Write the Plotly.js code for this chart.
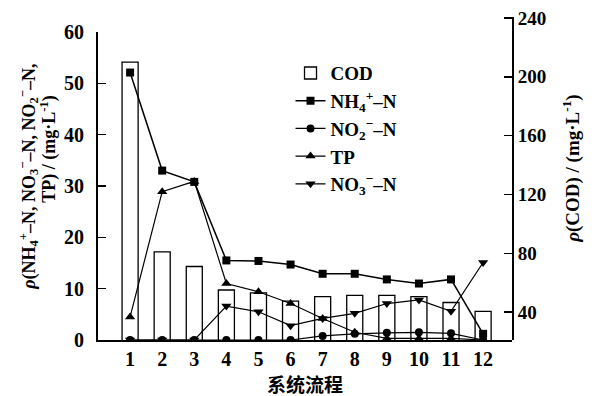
<!DOCTYPE html>
<html>
<head>
<meta charset="utf-8">
<script src="https://cdn.plot.ly/plotly-3.0.1.min.js"></script>
<style>html,body{margin:0;padding:0;background:#fff;}#chart{width:600px;height:396px;}</style>
</head>
<body>
<div id="chart"></div>
<script>
const steps = ['1','2','3','4','5','6','7','8','9','10','11','12'];
const stepX = [1,2,3,4,5,6,7,8,9,10,11,12];
const cod = [210, 81, 71, 55, 53, 47.5, 50.5, 51.3, 51.3, 50.5, 46.5, 40.5];
const nh4 = [52.1, 33.0, 30.8, 15.5, 15.4, 14.7, 12.9, 12.9, 11.8, 11.0, 11.8, 1.2];
const no2 = [0, 0, 0, 0, 0, 0, 0.8, 1.2, 1.4, 1.5, 1.3, 0];
const tp  = [4.5, 28.9, 30.9, 11.0, 9.4, 7.1, 4.2, 1.5, 0.3, 0.3, 0.3, 0];
const no3 = [0, 0, 0, 6.6, 5.5, 2.8, 4.2, 5.2, 7.1, 7.8, 5.6, 15.1];
const leftTicks = [0, 10, 20, 30, 40, 50, 60];
const rightTicks = [40, 80, 120, 160, 200, 240];

const serif = 'Liberation Serif, Times New Roman, serif';
const lineStyle = {color: '#000', width: 1.2};

const traces = [
  {type: 'bar', name: 'COD', x: stepX, y: cod, xaxis: 'x', yaxis: 'y2', width: 0.5,
   marker: {color: 'rgba(255,255,255,0)', line: {color: '#000', width: 1.3}}},
  {type: 'scatter', mode: 'lines+markers', name: 'NH<sub>4</sub><sup>+</sup>–N', x: stepX, y: nh4,
   line: {color: '#000', width: 1.5}, marker: {symbol: 'square', size: 8, color: '#000'}},
  {type: 'scatter', mode: 'lines+markers', name: 'NO<sub>2</sub><sup>−</sup>–N', x: stepX, y: no2,
   line: lineStyle, marker: {symbol: 'circle', size: 8, color: '#000'}},
  {type: 'scatter', mode: 'lines+markers', name: 'TP', x: stepX, y: tp,
   line: lineStyle, marker: {symbol: 'triangle-up', size: 9, color: '#000'}},
  {type: 'scatter', mode: 'lines+markers', name: 'NO<sub>3</sub><sup>−</sup>–N', x: stepX, y: no3,
   line: lineStyle, marker: {symbol: 'triangle-down', size: 9, color: '#000'}}
];

const layout = {
  width: 600, height: 396,
  margin: {l: 98, r: 88, t: 17, b: 56},
  paper_bgcolor: '#fff', plot_bgcolor: 'rgba(0,0,0,0)',
  showlegend: true,
  legend: {x: 0.465, y: 0.885, xanchor: 'left', yanchor: 'top', bgcolor: 'rgba(0,0,0,0)',
           font: {family: serif, size: 19, color: '#000', weight: 'bold'}, tracegroupgap: 0},
  xaxis: {range: [0, 12.9], tickvals: stepX, ticktext: steps, showgrid: false, zeroline: false,
          showline: true, linecolor: '#000', linewidth: 2, ticks: '', anchor: 'y',
          tickfont: {family: serif, size: 20, color: '#000', weight: 'bold'}},
  yaxis: {domain: [0, 0.9536], range: [0, 60], tickvals: leftTicks, showgrid: false, zeroline: false,
          showline: true, linecolor: '#000', linewidth: 2, ticks: 'inside', ticklen: 8, tickwidth: 1.5, tickcolor: '#000',
          ticklabelstandoff: 8,
          tickfont: {family: serif, size: 20, color: '#000', weight: 'bold'}},
  yaxis2: {domain: [0, 1], anchor: 'x', side: 'right', range: [21, 240.7], tickvals: rightTicks, showgrid: false, zeroline: false,
          showline: true, linecolor: '#000', linewidth: 2, ticks: 'inside', ticklen: 8, tickwidth: 1.5, tickcolor: '#000',
          tickfont: {family: serif, size: 19, color: '#000', weight: 'bold'}},
  annotations: [
    {xref: 'paper', yref: 'paper', x: -0.167, y: 0.505, xanchor: 'center', yanchor: 'middle', textangle: -90, showarrow: false,
     text: '<i>ρ</i>(NH<sub>4</sub><sup>+</sup>–N, NO<sub>3</sub><sup>−</sup>–N, NO<sub>2</sub><sup>−</sup>–N,',
     font: {family: serif, size: 18, color: '#000', weight: 'bold'}},
    {xref: 'paper', yref: 'paper', x: -0.119, y: 0.591, xanchor: 'center', yanchor: 'middle', textangle: -90, showarrow: false,
     text: 'TP) / (mg·L<sup>-1</sup>)',
     font: {family: serif, size: 18, color: '#000', weight: 'bold'}},
    {xref: 'paper', yref: 'paper', x: 1.145, y: 0.53, xanchor: 'center', yanchor: 'middle', textangle: -90, showarrow: false,
     text: '<i>ρ</i>(COD) / (mg·L<sup>-1</sup>)',
     font: {family: serif, size: 19, color: '#000', weight: 'bold'}},
    {xref: 'paper', yref: 'paper', x: 0.5, y: -0.134, xanchor: 'center', yanchor: 'middle', showarrow: false,
     text: '系统流程',
     font: {family: 'Noto Sans CJK SC', size: 19, color: '#000', weight: 'bold'}}
  ]
};

Plotly.newPlot('chart', traces, layout, {displayModeBar: false, staticPlot: true});
</script>
</body>
</html>
